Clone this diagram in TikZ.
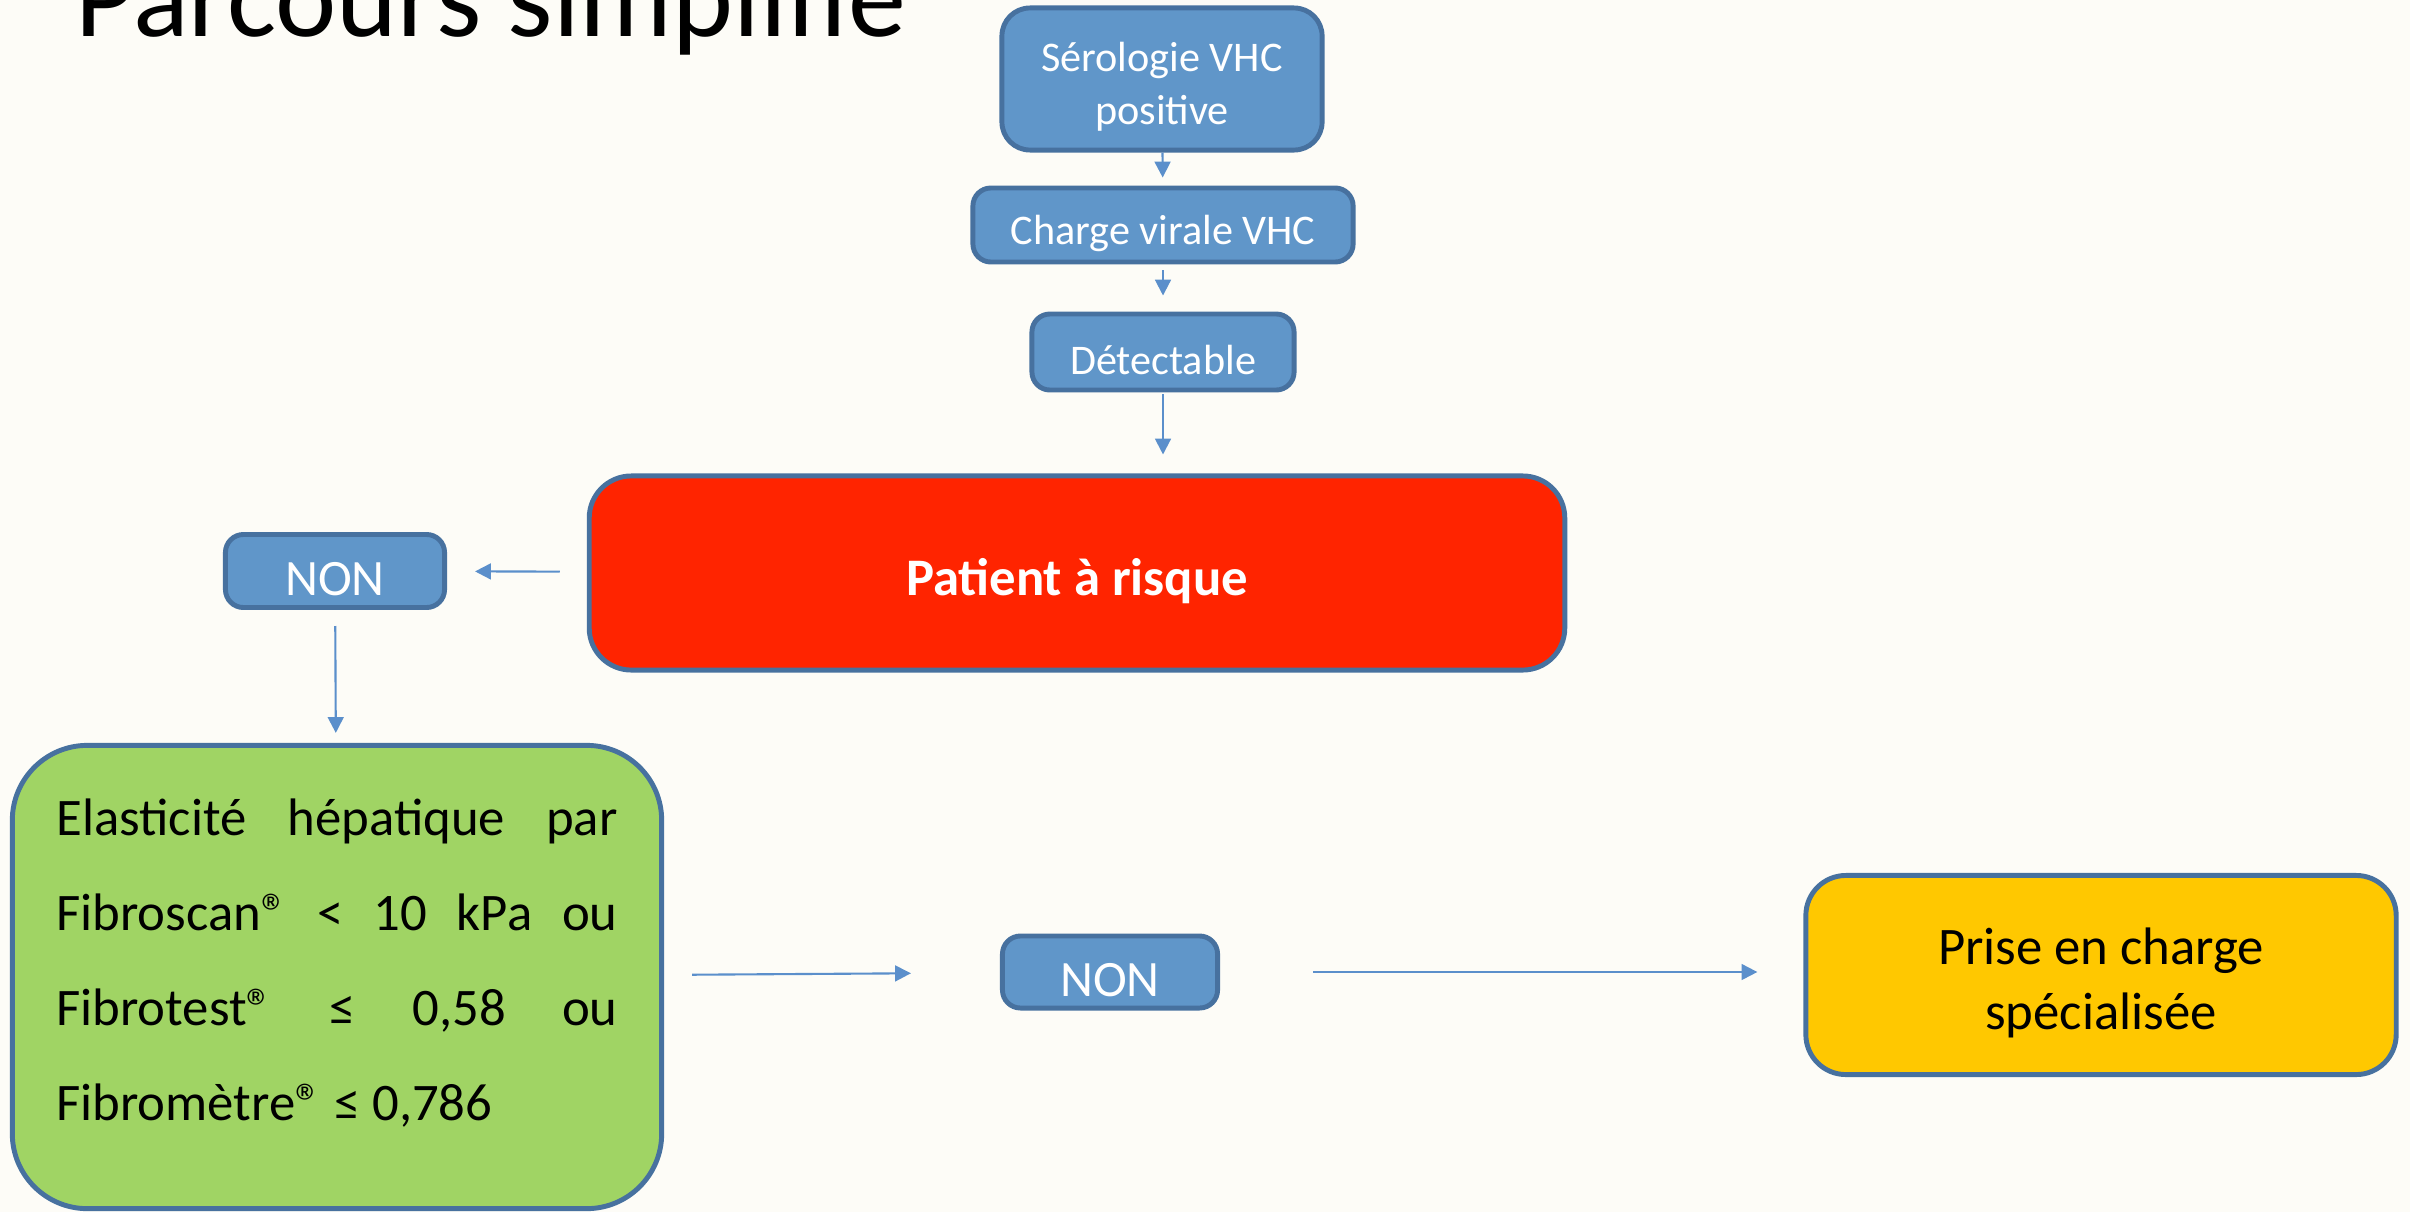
\documentclass[tikz,border=0pt]{standalone}
\usepackage{fontspec}
\setmainfont{Carlito}
\usetikzlibrary{arrows.meta}

\definecolor{fond}{HTML}{FDFCF7}
\definecolor{bleu}{HTML}{6096C9}
\definecolor{bordbleu}{HTML}{47719F}
\definecolor{flechebleu}{HTML}{5B8FCB}
\definecolor{rouge}{HTML}{FF2400}
\definecolor{vert}{HTML}{A0D464}
\definecolor{jaune}{HTML}{FFC800}

% descend le texte dans sa boite sans changer la taille
\newcommand{\textbas}[1]{\raisebox{-2.3pt}[\height][\depth]{#1}}

\begin{document}
\begin{tikzpicture}[x=0.01cm, y=-0.01cm,
    boite/.style={draw=bordbleu, line width=1.4pt, fill=bleu, text=white, inner sep=0pt, align=center, rounded corners=0.18cm},
    fleche/.style={draw=flechebleu, line width=0.6pt, -{Triangle[length=4.5pt,width=4.5pt]}, flechebleu}]

    % Fond de la diapositive
    \fill[fond] (0,0) rectangle (2410,1212);
    \useasboundingbox (0,0) rectangle (2410,1212);

    % Titre (coupe en haut)
    \node[anchor=base west, inner sep=0pt, font=\fontsize{33}{40}\selectfont] (titre) at (75,37) {Parcours simplifié};

    % Les boites
    \node[boite, minimum width=3.2cm, minimum height=1.42cm, rounded corners=0.28cm, font=\fontsize{12}{15}\selectfont] (sero) at (1162,79) {\textbas{Sérologie VHC}\\\textbas{positive}};
    \node[boite, minimum width=3.8cm, minimum height=0.74cm, font=\fontsize{12}{15}\selectfont] (charge) at (1163,225) {\textbas{Charge virale VHC}};
    \node[boite, minimum width=2.62cm, minimum height=0.76cm, font=\fontsize{12}{15}\selectfont] (detect) at (1163,352) {\textbas{Détectable}};
    \node[boite, fill=rouge, minimum width=9.75cm, minimum height=1.94cm, rounded corners=0.42cm, font=\fontsize{15}{18}\bfseries] (patient) at (1077,573) {\textbas{Patient à risque}};
    \node[boite, minimum width=2.19cm, minimum height=0.73cm, font=\fontsize{14.5}{18}\selectfont] (non1) at (335,571) {\textbas{NON}};
    \node[boite, fill=vert, text=black, minimum width=6.49cm, minimum height=4.63cm, rounded corners=0.75cm, text width=5.61cm, align=justify, font=\fontsize{15}{27}\selectfont] (elast) at (337,977)
        {Elasticité hépatique par\linebreak Fibroscan® < 10 kPa ou\linebreak Fibrotest® ≤ 0,58 ou\linebreak Fibromètre® ≤ 0,786\par\vspace{8pt}};
    \node[boite, minimum width=2.15cm, minimum height=0.72cm, font=\fontsize{14.5}{18}\selectfont] (non2) at (1110,972) {\textbas{NON}};
    \node[boite, fill=jaune, text=black, minimum width=5.9cm, minimum height=1.99cm, rounded corners=0.4cm, font=\fontsize{15}{18.3}\selectfont] (prise) at (2101,975) {\textbas{Prise en charge}\\\textbas{spécialisée}};

    % Les fleches
    \draw[fleche, shorten >=0.08cm] (sero) -- (charge);
    \draw[fleche, shorten <=0.06cm, shorten >=0.16cm] (charge) -- (detect);
    \draw[fleche, shorten <=0.02cm, shorten >=0.19cm] (detect.south) -- (detect.south |- patient.north);
    \draw[fleche, shorten <=0.27cm, shorten >=0.28cm] (patient) -- (non1);
    \draw[fleche, shorten <=0.16cm, shorten >=0.1cm] (non1) -- (elast);
    \draw[fleche, shorten <=0.28cm, shorten >=0.89cm] (elast) -- (non2);
    \draw[fleche, shorten <=0.93cm, shorten >=0.46cm] (non2.east) -- (non2.east -| prise.west);

\end{tikzpicture}
\end{document}
